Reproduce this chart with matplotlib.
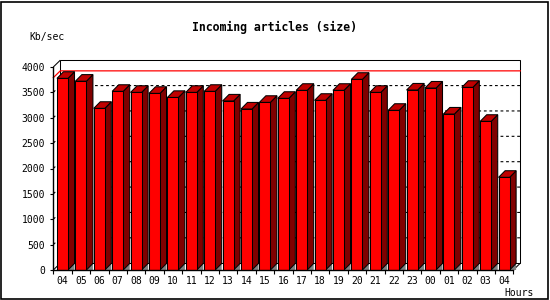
import matplotlib
matplotlib.use("Agg")
import matplotlib.pyplot as plt
from matplotlib.patches import Polygon, Rectangle

# ---- data ----
hours = ["04", "05", "06", "07", "08", "09", "10", "11", "12", "13", "14", "15",
         "16", "17", "18", "19", "20", "21", "22", "23", "00", "01", "02", "03", "04"]
values = [3776, 3720, 3185, 3520, 3500, 3480, 3400, 3500, 3520, 3330, 3172, 3303,
          3382, 3540, 3343, 3540, 3757, 3500, 3146, 3546, 3585, 3073, 3599, 2929, 1826]
yticks = [0, 500, 1000, 1500, 2000, 2500, 3000, 3500, 4000]
grid_levels = [500, 1000, 1500, 2000, 2500, 3000, 3500]
peak_line = 3790
title = "Incoming articles (size)"
ylabel = "Kb/sec"
xlabel = "Hours"

W, H = 550, 300
fig = plt.figure(figsize=(W / 100, H / 100), dpi=100)
fig.patch.set_facecolor("white")

n = len(values)
ymax = 4000
ax_left, ax_right, ax_bottom, ax_top = 53.3, 513.3, 270, 67
ax = fig.add_axes([ax_left / W, (H - ax_bottom) / H,
                   (ax_right - ax_left) / W, (ax_bottom - ax_top) / H])
ax.set_xlim(0, n)
ax.set_ylim(0, ymax)
ax.set_facecolor("none")

px_x = n / (ax_right - ax_left)        # data units per pixel (x)
px_y = ymax / (ax_bottom - ax_top)     # data units per pixel (y)

# depth offsets
bdx, bdy = 6.5 * px_x, 6.6 * px_y      # bars
pdx, pdy = 7.0 * px_x, 6.8 * px_y      # panel

lw = 0.75
mono = "DejaVu Sans Mono"

# ---- back panel & floor ----
ax.add_patch(Rectangle((pdx, pdy), n, ymax, fill=False, edgecolor="black",
                       lw=lw, clip_on=False, zorder=1))
for (x0, y0) in [(0, ymax), (0, 0), (n, 0)]:
    ax.plot([x0, x0 + pdx], [y0, y0 + pdy], color="black", lw=lw,
            clip_on=False, zorder=1, solid_capstyle="butt")

# dotted grid lines
for g in grid_levels:
    ax.plot([0, pdx, n + pdx], [g, g + pdy, g + pdy], color="black", lw=0.8,
            linestyle=(0, (2.5, 2.5)), clip_on=False, zorder=1.5)

# red peak line
ax.plot([0, pdx, n + pdx], [peak_line, peak_line + pdy, peak_line + pdy],
        color="#ff0000", lw=0.9, clip_on=False, zorder=1.6)

# ---- bars ----
bw = 0.6
xc = [i + 0.5 for i in range(n)]
ax.bar(xc, values, width=bw, color="#ff0000", edgecolor="black", lw=lw,
       zorder=3)
for x, v in zip(xc, values):
    xl, xr = x - bw / 2, x + bw / 2
    shadow = Polygon([(xr, 0), (xr + bdx, bdy), (xr + bdx, 0)], closed=True,
                     facecolor="#808080", edgecolor="none", zorder=2.5,
                     clip_on=False)
    side = Polygon([(xr, 0), (xr + bdx, bdy), (xr + bdx, v + bdy), (xr, v)],
                   closed=True, facecolor="#800000", edgecolor="black", lw=lw,
                   zorder=2.8, clip_on=False)
    top = Polygon([(xl, v), (xl + bdx, v + bdy), (xr + bdx, v + bdy), (xr, v)],
                  closed=True, facecolor="#c00000", edgecolor="black", lw=lw,
                  zorder=2.8, clip_on=False)
    ax.add_patch(shadow)
    ax.add_patch(side)
    ax.add_patch(top)

# ---- axes ----
for s in ["top", "right"]:
    ax.spines[s].set_visible(False)
for s in ["left", "bottom"]:
    ax.spines[s].set_linewidth(1.0)
    ax.spines[s].set_color("black")
    ax.spines[s].set_zorder(4)

ax.set_yticks(yticks)
ax.set_yticklabels([str(t) for t in yticks], fontfamily=mono, fontsize=7)
ax.tick_params(axis="y", direction="out", length=2.2, width=0.8, pad=3.6)

ax.set_xticks(range(n + 1))
ax.set_xticklabels([])
ax.set_xticks(xc, minor=True)
ax.set_xticklabels(hours, minor=True, fontfamily=mono, fontsize=7)
ax.tick_params(axis="x", which="major", direction="out", length=3, width=0.8)
ax.tick_params(axis="x", which="minor", length=0, pad=4.3)

# ---- texts ----
fig.text(274 / W, 1 - 27 / H, title, ha="center", va="center",
         fontfamily=mono, fontweight="bold", fontsize=8.3)
fig.text(29 / W, 1 - 37 / H, ylabel, ha="left", va="center",
         fontfamily=mono, fontsize=7)
fig.text(504 / W, 1 - 292.5 / H, xlabel, ha="left", va="center",
         fontfamily=mono, fontsize=7)

# outer frame
fig.add_artist(Rectangle((1 / W, 1 / H), 547 / W, 297 / H,
                         transform=fig.transFigure, fill=False,
                         edgecolor="black", lw=1.2))

fig.savefig("out.png", dpi=100)
